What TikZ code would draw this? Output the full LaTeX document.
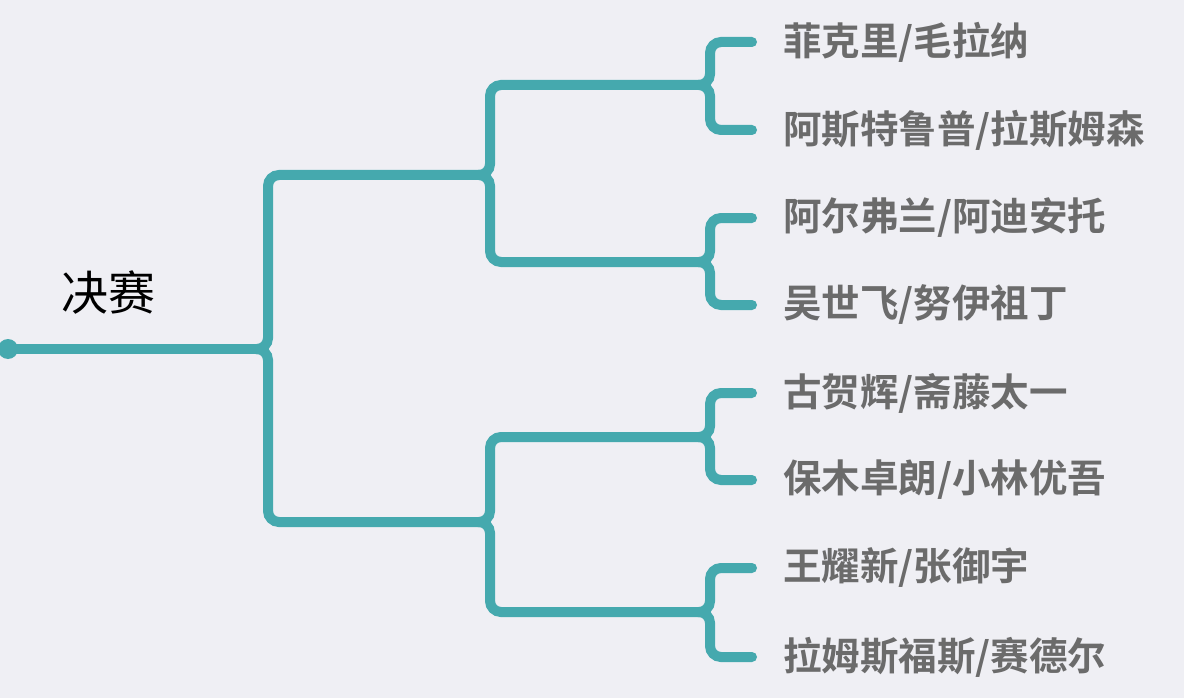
\documentclass[tikz,border=0pt]{standalone}
\usepackage{fontspec}
\newfontfamily\cjk{Noto Sans CJK SC}
\newfontfamily\cjkb{Noto Sans CJK SC Bold}
\definecolor{bg}{HTML}{EFEFF4}
\definecolor{teal}{HTML}{45A9AE}
\definecolor{lab}{HTML}{6B6B6B}
\newcommand\myfork[5]{% bx, ytop, ymid, ybot, endx
  \draw[br] (#5,#2) -- (#1,#2) -- (#1,#3) -- (#1-12,#3);
  \draw[br] (#5,#4) -- (#1,#4) -- (#1,#3) -- (#1-12,#3);}
\begin{document}
\begin{tikzpicture}[x=1pt,y=-1pt,
  br/.style={teal,line width=10pt,rounded corners=11pt,line cap=round},
  lb/.style={anchor=west,text=lab,font=\cjkb\fontsize{38.5}{40}\selectfont,inner sep=0pt}]
\fill[bg] (0,0) rectangle (1184,698);
\useasboundingbox (0,0) rectangle (1184,698);
\coordinate (root) at (8,349);
\fill[teal] (root) circle (10);
\draw[br] (root) -- (256,349);
\myfork{268}{175}{349}{522}{478}
\myfork{490}{85}{175}{262}{698}
\myfork{490}{437}{522}{612}{698}
\myfork{710}{42}{85}{130}{752}
\myfork{710}{218}{262}{305}{752}
\myfork{710}{393}{437}{480}{752}
\myfork{710}{568}{612}{657}{752}
\node[anchor=center,font=\cjk\fontsize{47}{50}\selectfont] (f) at (108,293) {决赛};
\node[lb] (a) at (783,42) {菲克里/毛拉纳};
\node[lb] (b) at (783,130) {阿斯特鲁普/拉斯姆森};
\node[lb] (c) at (783,218) {阿尔弗兰/阿迪安托};
\node[lb] (d) at (783,305) {吴世飞/努伊祖丁};
\node[lb] (e) at (783,393) {古贺辉/斋藤太一};
\node[lb] (g) at (783,480) {保木卓朗/小林优吾};
\node[lb] (h) at (783,568) {王耀新/张御宇};
\node[lb] (i) at (783,657) {拉姆斯福斯/赛德尔};
\end{tikzpicture}
\end{document}
